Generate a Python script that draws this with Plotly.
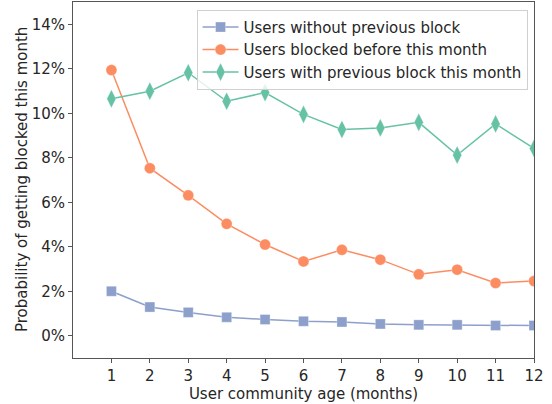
import plotly.graph_objects as go

# User community age in months
months = [1, 2, 3, 4, 5, 6, 7, 8, 9, 10, 11, 12]

# Monthly probability of getting blocked (%)
no_previous_block = [2.00, 1.29, 1.05, 0.83, 0.73, 0.65, 0.62, 0.53, 0.49, 0.49, 0.46, 0.46]
blocked_before = [11.94, 7.53, 6.31, 5.03, 4.10, 3.34, 3.86, 3.42, 2.76, 2.97, 2.37, 2.46]
previous_block_this_month = [10.65, 10.99, 11.82, 10.54, 10.93, 9.95, 9.27, 9.34, 9.59, 8.12, 9.52, 8.42]

y_ticks = [0, 2, 4, 6, 8, 10, 12, 14]
y_tick_labels = [f"{v}%" for v in y_ticks]

series = [
    ("Users without previous block", no_previous_block, "#8da0cb", "square", 10),
    ("Users blocked before this month", blocked_before, "#fc8d62", "circle", 11),
    ("Users with previous block this month", previous_block_this_month, "#66c2a5", "diamond-tall", 13),
]

FONT = "DejaVu Sans"
TEXT_COLOR = "#262626"

fig = go.Figure()
for name, values, color, symbol, size in series:
    fig.add_trace(go.Scatter(
        x=months, y=values, name=name, mode="lines+markers",
        line=dict(color=color, width=1.5),
        marker=dict(symbol=symbol, size=size, color=color,
                    line=dict(color="rgba(255,255,255,0.6)", width=0.5)),
    ))

axis_style = dict(
    showline=True, mirror=True, linecolor="#555555", linewidth=1,
    ticks="outside", ticklen=4, tickcolor="#555555", tickwidth=1,
    showgrid=False, zeroline=False,
    tickfont=dict(family=FONT, size=15, color=TEXT_COLOR),
)

fig.update_xaxes(
    range=[0, 12], tickvals=months,
    title=dict(text="User community age (months)", standoff=3,
               font=dict(family=FONT, size=15, color=TEXT_COLOR)),
    **axis_style,
)
fig.update_yaxes(
    range=[-1, 15], tickvals=y_ticks, ticktext=y_tick_labels,
    **axis_style,
)

# Vertical axis title, placed just left of the tick labels
fig.add_annotation(
    text="Probability of getting blocked this month",
    xref="paper", yref="paper", x=0, y=0.5,
    xanchor="center", yanchor="middle", xshift=-51,
    textangle=-90, showarrow=False,
    font=dict(family=FONT, size=15, color=TEXT_COLOR),
)

fig.update_layout(
    width=552, height=404,
    margin=dict(l=73, r=18, t=2, b=46),
    plot_bgcolor="white", paper_bgcolor="white",
    font=dict(family=FONT, size=15, color=TEXT_COLOR),
    legend=dict(
        x=0.268, y=0.978, xanchor="left", yanchor="top",
        bordercolor="#d0d0d0", borderwidth=1, bgcolor="rgba(255,255,255,0.8)",
        font=dict(family=FONT, size=15, color=TEXT_COLOR),
        tracegroupgap=0, itemwidth=36,
    ),
)

fig.write_html("out.html")
